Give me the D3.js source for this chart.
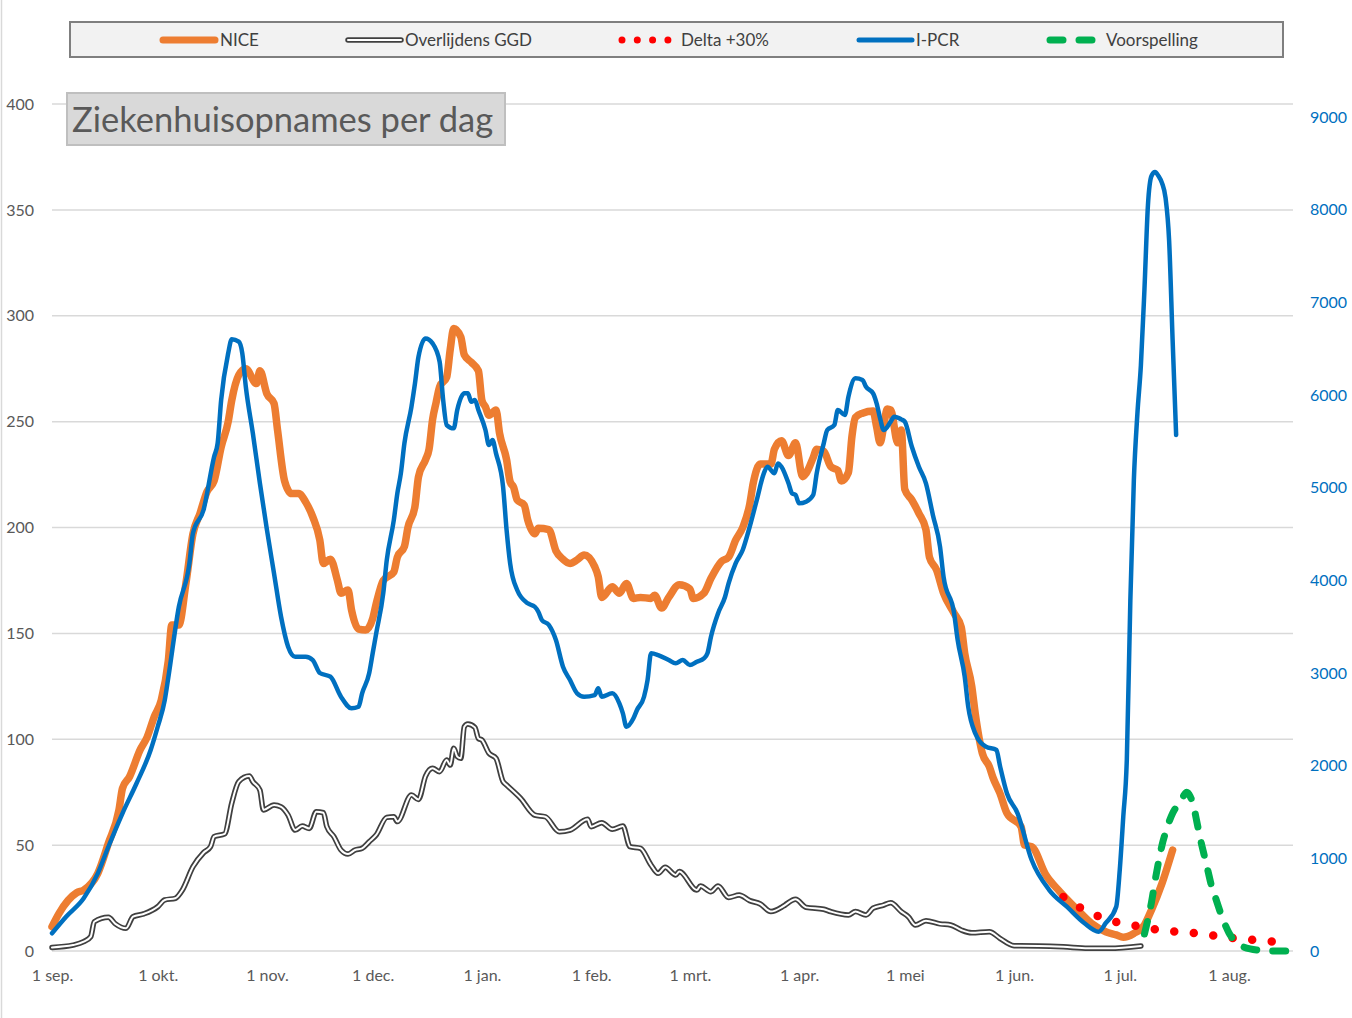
<!DOCTYPE html>
<html><head><meta charset="utf-8">
<script src="https://cdn.jsdelivr.net/npm/d3@7"></script>
<style>body{margin:0;background:#fff}svg{display:block;font-family:Lato,"Open Sans",sans-serif}</style>
</head><body><svg id="c" width="1352" height="1018"></svg>
<script>
// ---------- DATA (day offsets from 1 Sep 2020) ----------
const monthLabels = ["1 sep.","1 okt.","1 nov.","1 dec.","1 jan.","1 feb.","1 mrt.","1 apr.","1 mei","1 jun.","1 jul.","1 aug."];
const leftTicks = [0,50,100,150,200,250,300,350,400];
const rightTicks = [0,1000,2000,3000,4000,5000,6000,7000,8000,9000];
const seriesNames = ["NICE","Overlijdens GGD","Delta +30%","I-PCR","Voorspelling"];

const niceDays = [0,2,7,9,13,16,19,20,22,25,27,29,31,33,34,36,38,40,42,44,46,48,50,51,53,55,58,59,61,63,64,66,68,70,72,74,76,77,79,81,82,84,85,87,89,91,92,94,97,98,100,101,103,104,106,107,108,109,110,112,113,114,116,117,119,121,122,123,124,126,127,129,130,131,132,134,135,137,138,141,143,145,147,149,151,154,155,156,159,161,163,165,167,170,171,173,175,178,181,182,185,187,190,192,194,196,198,199,201,204,205,207,209,211,213,214,216,217,219,221,223,224,226,227,228,230,233,234,235,236,237,238,240,241,242,244,246,248,249,251,253,256,258,259,261,262,264,266,267,269,271,275,276,278,282,286,291,295,299,302,304,307,310,312,315,318];
const niceValues = [11.5,17.8,27.5,28.8,36.7,50.9,66.6,76.8,82.3,95,101,110.6,118.5,137,154,154,173.6,197,206.7,217,222,238,250,260,272,275,268,274,263,258.6,246,222,216,216,212,205,194,183,185,175,169,170.5,161,152,151.6,157,164,175,179,186,191,200,210,224,232,237,251,259,266.5,271,284,294,290,281.5,278,274,260,257,253,255.5,244.5,232,221.6,219,213,210.6,203.5,197,199.6,199,189,185,183,184.7,187,181.5,176.8,167,172,169,173.6,166.5,167,166.5,168,162,167,173,171,166.5,169,176,184,186,194,200,211,221,230,230,237,241,234,240,224,225.6,233,237,236,228.7,227,222,226,243,252,254,255,247.6,240,247.6,256,255.5,240,246,218,213,206.7,199,186,180,169,159.5,153,140.6,125,112,93.4,87,82,74.5,65,58.7,50,49.3,36,28,19.4,13,9.1,7.6,6.5,8.3,12.3,19.4,32,47.7];

const ggdDays = [0,6,9,11,12,16,18,21,23,26,30,32,35,37,40,43,45,46,49,51,53,56,57,59,60,63,65,67,69,71,73,75,77,78,80,82,84,86,88,90,92,95,97,98,102,104,106,108,110,112,113,114,115,116,117,118,120,121,122,124,126,128,129,133,137,140,144,147,152,153,156,159,162,164,167,170,172,174,177,178,183,184,187,189,192,195,198,201,204,207,208,211,214,219,221,226,228,231,233,236,238,241,243,245,248,252,255,258,261,266,269,273,280,287,294,300,309];
const ggdValues = [1.7,2.8,4.4,6.8,13.8,15.9,12.8,10.7,16.2,17.5,20.9,24.1,24.9,28.8,39.8,46.4,49.3,54,55.3,69.8,80,82.6,80,76,66.6,69,68.1,64.2,57.1,59,57.9,65.8,65.3,58.7,54,47.7,45.8,47.7,48.5,51.6,54.8,63.1,63.4,61.1,73.7,71.6,82.6,86.3,84.7,90.2,87.8,95.7,91.8,91,105.9,107.2,105.6,100.4,99.6,93.4,91,80,78.4,72.1,64.2,63.4,56.3,57.1,62.2,58.7,60.6,57.5,59,49.3,48.5,40.6,36.7,39.5,35.9,37.5,28.8,30.7,28,30.7,25.3,26.4,23.8,22.2,18.6,20.6,21.7,24.4,20.6,19.7,18.6,17,18.6,17,20.2,21.7,22.8,18.6,16.2,12.3,14.3,12.8,12.3,9.9,8.6,9.1,6,2.5,2.4,2,1.3,1.3,2.4];

const deltaDays = [287,292,297,302,308,313,319,325,330,335,341,347];
const deltaValues = [25.5,20.3,16.4,13.7,11.8,10.2,9.1,8.3,7.2,6.1,5.2,4.4];

const pcrDays = [0,4,9,13,16,20,24,28,30,32,33,36,39,40,43,46,47,48,50,51,53,54,55,57,59,61,63,65,67,69,72,74,76,79,82,85,87,88,90,91,92,94,95,97,98,99,100,102,103,104,106,108,110,111,112,114,115,117,118,119,120,121,123,124,125,126,128,129,130,132,135,137,138,139,141,143,145,147,149,151,154,155,156,159,161,162,163,165,166,168,169,170,172,175,177,179,181,183,185,186,187,189,191,192,194,196,198,200,202,203,205,206,207,209,210,211,212,214,216,217,219,220,222,223,225,226,228,230,231,233,234,235,236,238,239,241,242,244,246,248,250,252,253,256,257,259,260,262,265,268,269,271,274,278,283,288,293,297,299,302,303,304,305,306,307,308,309,310,311,312,313,314,315,316,317,318,319];
const pcrValues = [191,370,569,838,1125,1486,1810,2169,2420,2708,2950,3715,4184,4507,4759,5334,5478,5946,6450,6601,6575,6450,6089,5586,5047,4543,4076,3607,3284,3176,3176,3140,3000,2960,2744,2619,2636,2781,2997,3213,3428,3860,4219,4651,4939,5155,5478,5873,6125,6413,6611,6557,6359,5946,5676,5640,5838,6018,6018,5927,5946,5838,5622,5460,5514,5370,5010,4543,4184,3896,3752,3715,3661,3572,3518,3356,3068,2924,2781,2744,2762,2835,2744,2781,2673,2565,2420,2511,2601,2744,2924,3212,3194,3140,3104,3140,3086,3122,3158,3212,3392,3643,3823,3968,4184,4327,4579,4867,5155,5226,5155,5262,5226,5047,4939,4921,4831,4849,4921,5155,5478,5622,5676,5838,5784,5981,6180,6162,6089,6017,5910,5748,5622,5712,5766,5737,5712,5442,5226,5047,4700,4363,4039,3644,3356,2960,2636,2349,2205,2169,2000,1700,1486,982,658,478,299,208,300,478,874,1450,2061,3777,5082,5795,6323,7133,8050,8363,8406,8363,8287,8125,7672,6593,5568];

const forecastDays = [310,311,312,313,314,315,316,317,318,319,320,321,322,323,324,325,326,327,328,329,330,331,332,333,334,335,336,337,338,340,343,347,352];
const forecastValues = [8,15,23,33,42,50,56,61,65,68,71,73,75,73,68,60,52,45,38,31,26,21,16,12,8.5,6,4,2.8,2,1,0.3,0,0];

// ---------- SETUP ----------
const svg = d3.select("#c");
const start = new Date(2020, 8, 1);
const dayToDate = d => d3.timeDay.offset(start, d);
const x = d3.scaleTime().domain([start, new Date(2021, 7, 1)]).range([52, 1229]);
const yL = d3.scaleLinear().domain([0, 400]).range([951, 104]);
const yR = d3.scaleLinear().domain([0, 9000]).range([951, 117]);
const plotRight = 1293;

// chart-area left border
svg.append("line").attr("x1",1.5).attr("x2",1.5).attr("y1",0).attr("y2",1018).attr("stroke","#d9d9d9").attr("stroke-width",1.5);

// gridlines
svg.append("g").selectAll("line").data(leftTicks).join("line")
  .attr("x1", 52).attr("x2", plotRight)
  .attr("y1", d => yL(d)).attr("y2", d => yL(d))
  .attr("stroke", "#d9d9d9").attr("stroke-width", 1.5);

// axes
const gL = svg.append("g").attr("transform","translate(34,0)")
  .call(d3.axisLeft(yL).tickValues(leftTicks).tickSize(0).tickPadding(0));
gL.select(".domain").remove();
gL.selectAll("text").attr("fill","#595959").style("font-size","16px").style("font-family","Lato");

const gR = svg.append("g").attr("transform","translate(1308,0)")
  .call(d3.axisRight(yR).tickValues(rightTicks).tickSize(0).tickPadding(2).tickFormat(d3.format("d")));
gR.select(".domain").remove();
gR.selectAll("text").attr("fill","#0070C0").style("font-size","16px").style("font-family","Lato");

const monthDates = monthLabels.map((_, i) => new Date(2020, 8 + i, 1));
const gX = svg.append("g").attr("transform","translate(0,951)")
  .call(d3.axisBottom(x).tickValues(monthDates).tickSize(0).tickPadding(19)
    .tickFormat((d, i) => monthLabels[i]));
gX.select(".domain").remove();
gX.selectAll("text").attr("fill","#595959").style("font-size","16px").style("font-family","Lato");

// ---------- SERIES ----------
const mk = (days, vals) => days.map((d, i) => ({date: dayToDate(d), v: vals[i]}));
const lineL = d3.line().x(d => x(d.date)).y(d => yL(d.v)).curve(d3.curveMonotoneX);
const lineR = d3.line().x(d => x(d.date)).y(d => yR(d.v)).curve(d3.curveMonotoneX);

const nice = mk(niceDays, niceValues);
const ggd = mk(ggdDays, ggdValues);
const delta = mk(deltaDays, deltaValues);
const pcr = mk(pcrDays, pcrValues);
const fc = mk(forecastDays, forecastValues);

svg.append("path").datum(nice).attr("d", lineL).attr("fill","none")
  .attr("stroke","#ED7D31").attr("stroke-width",7.5).attr("stroke-linejoin","round").attr("stroke-linecap","round");

svg.append("path").datum(ggd).attr("d", lineL).attr("fill","none")
  .attr("stroke","#404040").attr("stroke-width",5.5).attr("stroke-linejoin","round").attr("stroke-linecap","round");
svg.append("path").datum(ggd).attr("d", lineL).attr("fill","none")
  .attr("stroke","#ffffff").attr("stroke-width",2).attr("stroke-linejoin","round").attr("stroke-linecap","round");

svg.append("path").datum(delta).attr("d", lineL).attr("fill","none")
  .attr("stroke","#FF0000").attr("stroke-width",8.5).attr("stroke-linecap","round").attr("stroke-dasharray","0 19.6");

svg.append("path").datum(pcr).attr("d", lineR).attr("fill","none")
  .attr("stroke","#0070C0").attr("stroke-width",4.5).attr("stroke-linejoin","round").attr("stroke-linecap","round");

svg.append("path").datum(fc).attr("d", lineL).attr("fill","none")
  .attr("stroke","#00B050").attr("stroke-width",7).attr("stroke-linecap","round").attr("stroke-dasharray","13 16");

// ---------- LEGEND ----------
const lg = svg.append("g");
lg.append("rect").attr("x",70).attr("y",22).attr("width",1213).attr("height",35)
  .attr("fill","#f2f2f2").attr("stroke","#7f7f7f").attr("stroke-width",2);
const ly = 40;
lg.append("line").attr("x1",163).attr("x2",215).attr("y1",ly).attr("y2",ly)
  .attr("stroke","#ED7D31").attr("stroke-width",7).attr("stroke-linecap","round");
lg.append("line").attr("x1",348).attr("x2",401).attr("y1",ly).attr("y2",ly)
  .attr("stroke","#404040").attr("stroke-width",5.5).attr("stroke-linecap","round");
lg.append("line").attr("x1",348).attr("x2",401).attr("y1",ly).attr("y2",ly)
  .attr("stroke","#fff").attr("stroke-width",2).attr("stroke-linecap","round");
lg.append("line").attr("x1",622).attr("x2",668).attr("y1",ly).attr("y2",ly)
  .attr("stroke","#FF0000").attr("stroke-width",7).attr("stroke-linecap","round").attr("stroke-dasharray","0 15.3");
lg.append("line").attr("x1",859).attr("x2",912).attr("y1",ly).attr("y2",ly)
  .attr("stroke","#0070C0").attr("stroke-width",5).attr("stroke-linecap","round");
lg.append("line").attr("x1",1050).attr("x2",1092).attr("y1",ly).attr("y2",ly)
  .attr("stroke","#00B050").attr("stroke-width",7).attr("stroke-linecap","round").attr("stroke-dasharray","13 16");
const legendX = [220, 405, 681, 916, 1106];
lg.selectAll("text.l").data(seriesNames).join("text").attr("class","l")
  .attr("x", (d, i) => legendX[i]).attr("y", 45.5)
  .attr("fill","#404040").style("font-size","17px").text(d => d);

// ---------- TITLE ----------
svg.append("rect").attr("x",67).attr("y",93).attr("width",438).attr("height",52)
  .attr("fill","#d9d9d9").attr("stroke","#bfbfbf").attr("stroke-width",2);
svg.append("text").attr("x",72).attr("y",132).attr("fill","#595959")
  .style("font-size","34.5px").text("Ziekenhuisopnames per dag");
</script></body></html>
